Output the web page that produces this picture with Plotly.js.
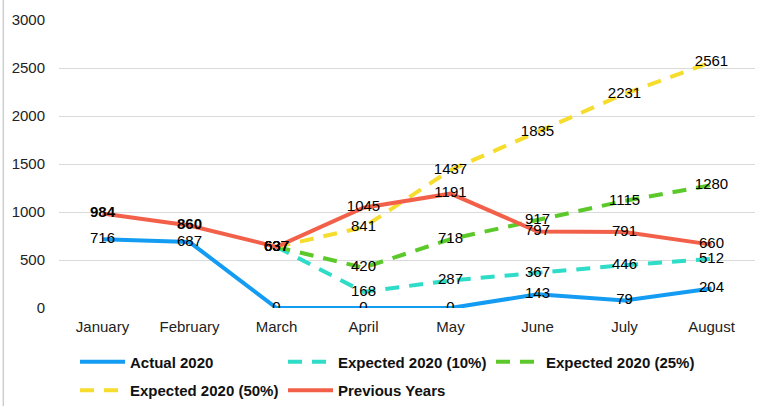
<!DOCTYPE html>
<html><head><meta charset="utf-8">
<script src="https://cdn.plot.ly/plotly-3.0.1.min.js"></script>
<style>html,body{margin:0;padding:0;background:#fff;}#chart{width:765px;height:406px;}</style>
</head><body><div id="chart"></div>
<script>
const months = ['January','February','March','April','May','June','July','August'];
const expMonths = ['March','April','May','June','July','August'];
const actual2020 = [716,687,0,0,0,143,79,204];
const expected10 = [637,168,287,367,446,512];
const expected25 = [637,420,718,917,1115,1280];
const expected50 = [637,841,1437,1835,2231,2561];
const previousYears = [984,860,637,1045,1191,797,791,660];
const yTicks = [0,500,1000,1500,2000,2500,3000];

const FONT = 'Liberation Sans, Arial, Helvetica, sans-serif';
const series = [
  {name:'Actual 2020', x:months, y:actual2020, color:'#139cf2', dash:false, legend:'legend'},
  {name:'Expected 2020 (10%)', x:expMonths, y:expected10, color:'#2fdcc8', dash:true, legend:'legend'},
  {name:'Expected 2020 (25%)', x:expMonths, y:expected25, color:'#5cc92b', dash:true, legend:'legend'},
  {name:'Expected 2020 (50%)', x:expMonths, y:expected50, color:'#f6dc2c', dash:true, legend:'legend2'},
  {name:'Previous Years', x:months, y:previousYears, color:'#f3604a', dash:false, legend:'legend2'}
];

const traces = [];
series.forEach(s => {
  traces.push({type:'scatter', mode:'lines', name:s.name, x:s.x, y:s.y, legend:s.legend,
    line:{color:s.color, width:4, dash: s.dash ? '14px,10px' : 'solid'},
    hoverinfo:'skip'});
});
series.forEach(s => {
  const weights = s.y.map((v,i) => (s.name==='Previous Years' && i<2) ? 'bold' : 'normal');
  traces.push({type:'scatter', mode:'text', showlegend:false, x:s.x, y:s.y,
    text:s.y.map(String), textposition:'middle center',
    textfont:{family:FONT, size:15, color:'#000', weight:weights},
    hoverinfo:'skip'});
});

const legendBase = {orientation:'h', xanchor:'left', yanchor:'top', x:0.023,
  entrywidth:148, itemwidth:45, traceorder:'normal', bgcolor:'rgba(0,0,0,0)',
  font:{family:FONT, size:15, color:'#111', weight:'bold'}};

const layout = {
  width:765, height:406,
  margin:{l:59, r:10, t:20, b:98, autoexpand:false},
  paper_bgcolor:'#fff', plot_bgcolor:'#fff',
  font:{family:FONT, size:15, color:'#222'},
  xaxis:{type:'category', categoryorder:'array', categoryarray:months, range:[-0.5,7.5],
    showgrid:false, zeroline:false, showline:false, ticks:'', ticklabelstandoff:8,
    tickfont:{size:15, color:'#222'}, automargin:false},
  yaxis:{range:[0,3000], tickvals:yTicks, ticktext:yTicks.map(String),
    showgrid:true, gridcolor:'#dadada', gridwidth:1, zeroline:false, showline:false,
    ticks:'', ticklabelstandoff:13, tickfont:{size:15, color:'#222'}, automargin:false},
  showlegend:true,
  legend:Object.assign({}, legendBase, {y:-0.13}),
  legend2:Object.assign({}, legendBase, {y:-0.229}),
  shapes:[{type:'line', xref:'paper', yref:'paper', x0:-0.08, x1:-0.08, y0:-0.35, y1:1.07,
    line:{color:'#cfcfcf', width:1.5}}]
};
Plotly.newPlot('chart', traces, layout, {displayModeBar:false, staticPlot:true});
</script></body></html>
